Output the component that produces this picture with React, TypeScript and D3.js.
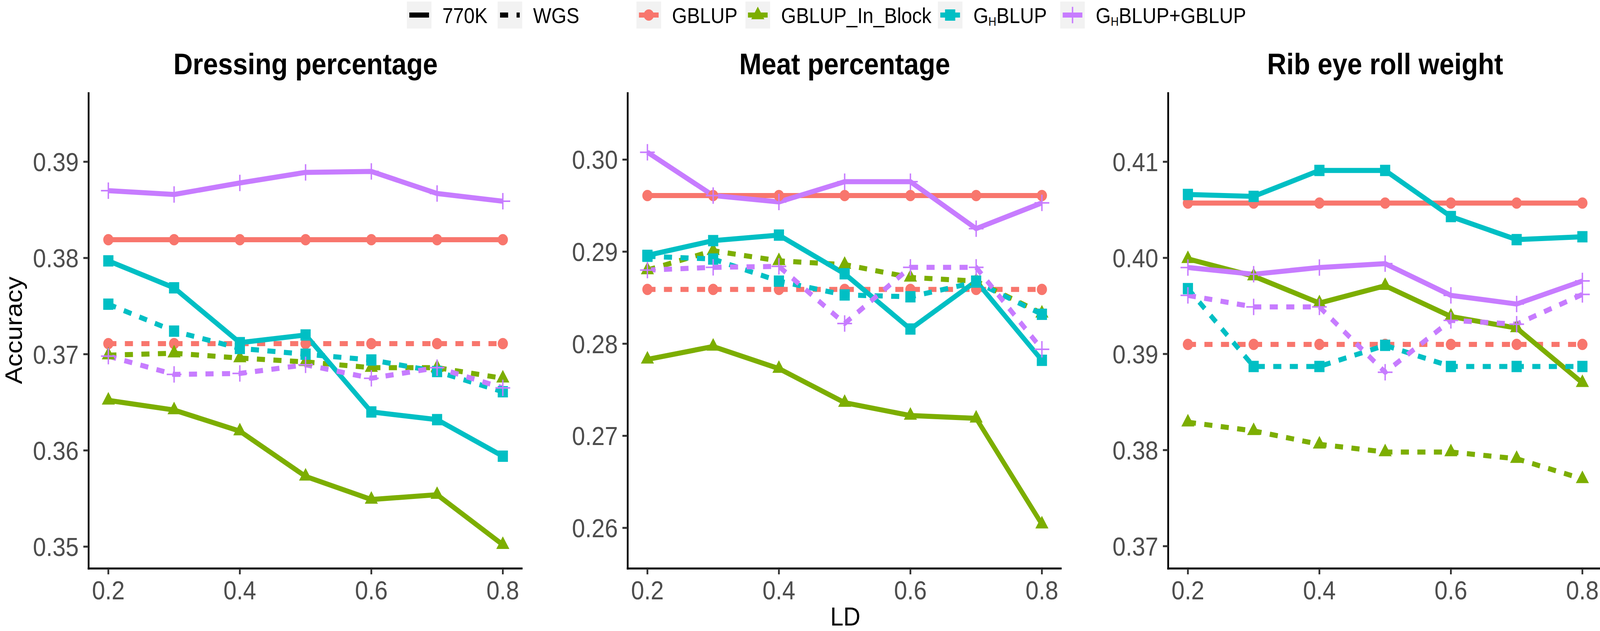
import React from "react";
import * as d3 from "d3";

// ---------- data ----------
const LD = [0.2, 0.3, 0.4, 0.5, 0.6, 0.7, 0.8];
const xTicks = [0.2, 0.4, 0.6, 0.8];
const traits = ["Dressing percentage", "Meat percentage", "Rib eye roll weight"];
const methods = ["GBLUP", "GBLUP_In_Block", "GHBLUP", "GHBLUP+GBLUP"];
const platforms = ["770K", "WGS"];
const methodColors = ["#F8766D", "#7CAE00", "#00BFC4", "#C77CFF"];
const methodShapes = ["circle", "triangle", "square", "plus"];

// Dressing percentage
const dp770K_GBLUP = [0.3819, 0.3819, 0.3819, 0.3819, 0.3819, 0.3819, 0.3819];
const dpWGS_GBLUP = [0.3711, 0.3711, 0.3711, 0.3711, 0.3711, 0.3711, 0.3711];
const dp770K_InBlock = [0.3652, 0.3642, 0.362, 0.3573, 0.3549, 0.3554, 0.3502];
const dpWGS_InBlock = [0.3699, 0.3701, 0.3696, 0.3692, 0.3686, 0.3686, 0.3675];
const dp770K_GHBLUP = [0.3797, 0.3769, 0.3712, 0.372, 0.364, 0.3632, 0.3594];
const dpWGS_GHBLUP = [0.3752, 0.3724, 0.3706, 0.37, 0.3694, 0.3682, 0.3661];
const dp770K_GHG = [0.387, 0.3866, 0.3878, 0.3889, 0.389, 0.3867, 0.3859];
const dpWGS_GHG = [0.3698, 0.3679, 0.368, 0.3689, 0.3675, 0.3686, 0.3665];

// Meat percentage
const mp770K_GBLUP = [0.2961, 0.2961, 0.2961, 0.2961, 0.2961, 0.2961, 0.2961];
const mpWGS_GBLUP = [0.2859, 0.2859, 0.2859, 0.2859, 0.2859, 0.2859, 0.2859];
const mp770K_InBlock = [0.2783, 0.2797, 0.2773, 0.2736, 0.2722, 0.2719, 0.2604];
const mpWGS_InBlock = [0.288, 0.2901, 0.289, 0.2886, 0.2872, 0.2868, 0.2833];
const mp770K_GHBLUP = [0.2896, 0.2912, 0.2918, 0.2876, 0.2816, 0.2868, 0.2782];
const mpWGS_GHBLUP = [0.2895, 0.2892, 0.2868, 0.2853, 0.2851, 0.2867, 0.2832];
const mp770K_GHG = [0.3008, 0.2961, 0.2954, 0.2976, 0.2976, 0.2925, 0.2953];
const mpWGS_GHG = [0.288, 0.2883, 0.2884, 0.2822, 0.2883, 0.2883, 0.2794];

// Rib eye roll weight
const rer770K_GBLUP = [0.4057, 0.4057, 0.4057, 0.4057, 0.4057, 0.4057, 0.4057];
const rerWGS_GBLUP = [0.391, 0.391, 0.391, 0.391, 0.391, 0.391, 0.391];
const rer770K_InBlock = [0.3999, 0.3981, 0.3953, 0.3971, 0.3939, 0.3927, 0.387];
const rerWGS_InBlock = [0.3829, 0.382, 0.3806, 0.3798, 0.3798, 0.3791, 0.377];
const rer770K_GHBLUP = [0.4066, 0.4064, 0.4091, 0.4091, 0.4043, 0.4019, 0.4022];
const rerWGS_GHBLUP = [0.3968, 0.3887, 0.3887, 0.3909, 0.3887, 0.3887, 0.3887];
const rer770K_GHG = [0.399, 0.3983, 0.399, 0.3994, 0.3961, 0.3952, 0.3976];
const rerWGS_GHG = [0.3961, 0.3949, 0.3949, 0.3881, 0.3935, 0.3931, 0.3962];

// per trait: [method][platform]
const traitSeries = [
  [
    [dp770K_GBLUP, dpWGS_GBLUP],
    [dp770K_InBlock, dpWGS_InBlock],
    [dp770K_GHBLUP, dpWGS_GHBLUP],
    [dp770K_GHG, dpWGS_GHG],
  ],
  [
    [mp770K_GBLUP, mpWGS_GBLUP],
    [mp770K_InBlock, mpWGS_InBlock],
    [mp770K_GHBLUP, mpWGS_GHBLUP],
    [mp770K_GHG, mpWGS_GHG],
  ],
  [
    [rer770K_GBLUP, rerWGS_GBLUP],
    [rer770K_InBlock, rerWGS_InBlock],
    [rer770K_GHBLUP, rerWGS_GHBLUP],
    [rer770K_GHG, rerWGS_GHG],
  ],
];

const yTicksDP = [0.35, 0.36, 0.37, 0.38, 0.39];
const yTicksMP = [0.26, 0.27, 0.28, 0.29, 0.3];
const yTicksRER = [0.37, 0.38, 0.39, 0.4, 0.41];
const yTicksAll = [yTicksDP, yTicksMP, yTicksRER];
const yDomains: [number, number][] = [
  [0.34773, 0.39723],
  [0.25559, 0.30732],
  [0.36768, 0.41724],
];
const xDomain: [number, number] = [0.17, 0.83];

// ---------- layout ----------
const W = 4550;
const H = 1615;
const panelLefts = [252, 1785, 3322];
const panelWidth = 1234;
const panelTop = 236;
const panelBottom = 1455;
const FONT = "'Liberation Sans', Arial, Helvetica, sans-serif";
const LINE_W = 13;
const DASH = "23 24";
const TICK_LEN = 15;

function Marker({ shape, x, y, color }: { shape: string; x: number; y: number; color: string }) {
  if (shape === "circle") return <circle cx={x} cy={y} r={14.5} fill={color} />;
  if (shape === "square") return <rect x={x - 14.5} y={y - 14.5} width={29} height={29} fill={color} />;
  if (shape === "triangle") {
    const p = d3.symbol().type(d3.symbolTriangle).size(600)();
    return <path d={p || ""} transform={`translate(${x},${y})`} fill={color} />;
  }
  return (
    <path
      d={`M${x - 21},${y}H${x + 21}M${x},${y - 21}V${y + 21}`}
      stroke={color}
      strokeWidth={4}
      fill="none"
    />
  );
}

function GHText({ label, x, y, size }: { label: string; x: number; y: number; size: number }) {
  if (label.startsWith("GH")) {
    return (
      <text x={x} y={y} fontFamily={FONT} fontSize={size} fill="#000">
        <tspan>G</tspan>
        <tspan fontSize={size * 0.57} dy={7}>H</tspan>
        <tspan dy={-7}>{label.slice(2)}</tspan>
      </text>
    );
  }
  return (
    <text x={x} y={y} fontFamily={FONT} fontSize={size} fill="#000">
      {label}
    </text>
  );
}

function Panel({ idx }: { idx: number }) {
  const left = panelLefts[idx];
  const x = d3.scaleLinear().domain(xDomain).range([left, left + panelWidth]);
  const y = d3.scaleLinear().domain(yDomains[idx]).range([panelBottom, panelTop]);
  const line = d3
    .line<number>()
    .x((_, i) => x(LD[i]))
    .y((d) => y(d));
  const fmt = d3.format(".2f");
  const series = traitSeries[idx];

  return (
    <g>
      <text
        x={(left + left + panelWidth) / 2}
        y={190}
        textAnchor="middle"
        fontFamily={FONT}
        fontWeight="bold"
        fontSize={76}
        fill="#000"
      >
        {traits[idx]}
      </text>
      {series.map((pair, m) =>
        pair.map((vals, p) => (
          <path
            key={`l${m}-${p}`}
            d={line(vals) || ""}
            fill="none"
            stroke={methodColors[m]}
            strokeWidth={LINE_W}
            strokeLinejoin="round"
            strokeDasharray={p === 1 ? DASH : undefined}
          />
        ))
      )}
      {series.map((pair, m) =>
        pair.map((vals, p) =>
          vals.map((v, i) => (
            <Marker key={`p${m}-${p}-${i}`} shape={methodShapes[m]} x={x(LD[i])} y={y(v)} color={methodColors[m]} />
          ))
        )
      )}
      <line x1={left} x2={left} y1={panelTop} y2={panelBottom + 2.5} stroke="#000" strokeWidth={5} />
      <line x1={left - 2.5} x2={left + panelWidth} y1={panelBottom} y2={panelBottom} stroke="#000" strokeWidth={5} />
      {yTicksAll[idx].map((t) => (
        <g key={`yt${t}`}>
          <line x1={left - TICK_LEN} x2={left} y1={y(t)} y2={y(t)} stroke="#333" strokeWidth={5} />
          <text
            x={left - TICK_LEN - 13}
            y={y(t) + 24}
            textAnchor="end"
            fontFamily={FONT}
            fontSize={67}
            fill="#4D4D4D"
          >
            {fmt(t)}
          </text>
        </g>
      ))}
      {xTicks.map((t) => (
        <g key={`xt${t}`}>
          <line x1={x(t)} x2={x(t)} y1={panelBottom} y2={panelBottom + TICK_LEN} stroke="#333" strokeWidth={5} />
          <text x={x(t)} y={1534} textAnchor="middle" fontFamily={FONT} fontSize={67} fill="#4D4D4D">
            {String(t)}
          </text>
        </g>
      ))}
    </g>
  );
}

// legend layout (positions only)
const legendKeyW = 70;
const legendKeyTop = 4;
const legendKeyH = 69;
const lineKeyXs = [1157, 1415];
const methodKeyXs = [1810, 2120, 2667, 3015];
const LEG_FONT = 55;
const KEY_INSET = 7;
const TEXT_GAP = 31;

function Legend() {
  const cy = legendKeyTop + legendKeyH / 2;
  return (
    <g>
      {platforms.map((pl, i) => (
        <g key={pl}>
          <rect x={lineKeyXs[i]} y={legendKeyTop} width={legendKeyW} height={legendKeyH} fill="#F2F2F2" />
          <line
            x1={lineKeyXs[i] + KEY_INSET}
            x2={lineKeyXs[i] + legendKeyW - KEY_INSET}
            y1={cy}
            y2={cy}
            stroke="#000"
            strokeWidth={LINE_W}
            strokeDasharray={i === 1 ? DASH : undefined}
          />
          <GHText label={pl} x={lineKeyXs[i] + legendKeyW + TEXT_GAP} y={cy + 21} size={LEG_FONT} />
        </g>
      ))}
      {methods.map((m, i) => (
        <g key={m}>
          <rect x={methodKeyXs[i]} y={legendKeyTop} width={legendKeyW} height={legendKeyH} fill="#F2F2F2" />
          <line
            x1={methodKeyXs[i] + KEY_INSET}
            x2={methodKeyXs[i] + legendKeyW - KEY_INSET}
            y1={cy}
            y2={cy}
            stroke={methodColors[i]}
            strokeWidth={LINE_W}
          />
          <Marker shape={methodShapes[i]} x={methodKeyXs[i] + legendKeyW / 2} y={cy} color={methodColors[i]} />
          <GHText label={m} x={methodKeyXs[i] + legendKeyW + TEXT_GAP} y={cy + 21} size={LEG_FONT} />
        </g>
      ))}
    </g>
  );
}

export default function App() {
  const midY = (panelTop + panelBottom) / 2;
  const midX = (panelLefts[0] + panelLefts[2] + panelWidth) / 2;
  return (
    <>
      <style>{`html,body{margin:0;padding:0;overflow:hidden;background:#fff}`}</style>
      <svg
        viewBox={`0 0 ${W} ${H}`}
        preserveAspectRatio="none"
        style={{ display: "block", width: "100vw", height: "100vh" }}
      >
        <rect x={0} y={0} width={W} height={H} fill="#fff" />
        <Legend />
        {traits.map((_, i) => (
          <Panel key={i} idx={i} />
        ))}
        <text
          transform={`translate(62,${midY}) rotate(-90)`}
          textAnchor="middle"
          fontFamily={FONT}
          fontSize={67}
          fill="#000"
        >
          Accuracy
        </text>
        <text x={midX} y={1601} textAnchor="middle" fontFamily={FONT} fontSize={67} fill="#000">
          LD
        </text>
      </svg>
    </>
  );
}
